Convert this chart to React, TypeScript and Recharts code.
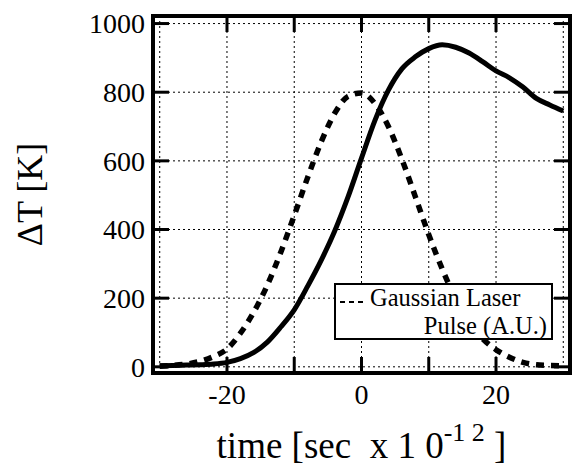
import React from "react";
import {
  LineChart,
  Line,
  XAxis,
  YAxis,
  CartesianGrid,
  Legend,
  ReferenceArea,
} from "recharts";

// time in ps (x 10^-12 s)
const time = [
  -30, -28, -26, -24, -22, -20, -18, -16, -14, -12, -10, -8, -6, -4, -2, 0,
  2, 4, 6, 8, 10, 12, 14, 16, 18, 20, 22, 24, 26, 28, 30,
];
// temperature rise, K
const deltaT = [
  3, 4, 5, 6, 8, 13, 24, 42, 72, 116, 166, 235, 310, 395, 495, 608,
  718, 806, 868, 903, 927, 938, 931, 914, 889, 862, 842, 815, 782, 763, 745,
];
// gaussian laser pulse, arbitrary units
const laserPulse = [
  2, 4, 8, 16, 30, 52, 98, 160, 238, 334, 441, 552, 655, 738, 788, 798,
  767, 700, 605, 496, 385, 285, 198, 130, 82, 50, 28, 13, 6, 4, 3,
];

const xTicks = [-30, -20, -10, 0, 10, 20, 30];
const xLabels = [-20, 0, 20];
const yTicks = [0, 200, 400, 600, 800, 1000];
const xDomain = [-31, 31];
const yDomain = [-18, 1022];

const data = time.map((t, i) => ({ t, dT: deltaT[i], pulse: laserPulse[i] }));

const FONT = "'Liberation Serif', 'Times New Roman', serif";
const TICK = 16;

const BottomTick = (props: any) => {
  const { x, y, payload } = props;
  const v = payload.value;
  return (
    <g>
      {Math.abs(v) < 30 && (
        <line x1={x} x2={x} y1={y} y2={y - TICK} stroke="#000" strokeWidth={3} />
      )}
      {xLabels.includes(v) && (
        <text x={x} y={y + 31} textAnchor="middle" fontSize={28} fontFamily={FONT} fill="#000">
          {v}
        </text>
      )}
    </g>
  );
};

const TopTick = (props: any) => {
  const { x, y, payload } = props;
  if (Math.abs(payload.value) >= 30) return <g />;
  return <line x1={x} x2={x} y1={y} y2={y + TICK} stroke="#000" strokeWidth={3} />;
};

const LeftTick = (props: any) => {
  const { x, y, payload } = props;
  return (
    <g>
      <line x1={x} x2={x + TICK} y1={y} y2={y} stroke="#000" strokeWidth={3} />
      <text x={x - 8} y={y} dy="0.35em" textAnchor="end" fontSize={28} fontFamily={FONT} fill="#000">
        {payload.value}
      </text>
    </g>
  );
};

const RightTick = (props: any) => {
  const { x, y } = props;
  return <line x1={x - TICK} x2={x} y1={y} y2={y} stroke="#000" strokeWidth={3} />;
};

const XTitle = (props: any) => {
  const { x, y, width } = props.viewBox;
  return (
    <text
      x={x + width / 2}
      y={y + 85}
      textAnchor="middle"
      fontSize={37}
      fontFamily={FONT}
      fill="#000"
      style={{ whiteSpace: "pre" }}
    >
      <tspan>time [sec  x 1 0</tspan>
      <tspan dy={-17} fontSize={26}>-1 2</tspan>
      <tspan dy={17}> ]</tspan>
    </text>
  );
};

const YTitle = (props: any) => {
  const { y, height } = props.viewBox;
  const cx = 29;
  const cy = y + height / 2;
  return (
    <text
      x={cx}
      y={cy}
      dy="0.35em"
      textAnchor="middle"
      fontSize={36}
      fontFamily={FONT}
      fill="#000"
      transform={`rotate(-90, ${cx}, ${cy})`}
    >
      ΔT [K]
    </text>
  );
};

const PulseLegend = () => (
  <div
    style={{
      position: "relative",
      width: 215,
      height: 53,
      border: "2px solid #000",
      background: "#fff",
      fontFamily: FONT,
      fontSize: 24.5,
      color: "#000",
      lineHeight: "27px",
    }}
  >
    <div style={{ position: "absolute", left: 4, top: -1, whiteSpace: "nowrap" }}>
      <svg width={23} height={10} style={{ marginRight: 7 }}>
        <line x1={0} x2={23} y1={6} y2={6} stroke="#000" strokeWidth={2} strokeDasharray="5 4" />
      </svg>
      Gaussian Laser
    </div>
    <div style={{ position: "absolute", right: 4, top: 27, whiteSpace: "nowrap" }}>
      Pulse (A.U.)
    </div>
  </div>
);

export default function App() {
  return (
    <div style={{ position: "absolute", left: 0, top: 0, background: "#fff" }}>
      <LineChart
        width={575}
        height={466}
        data={data}
        margin={{ top: 15, right: 4, bottom: 0, left: 0 }}
      >
        <CartesianGrid stroke="#000" strokeDasharray="2 3" strokeWidth={1} />
        <XAxis
          dataKey="t"
          type="number"
          domain={xDomain}
          ticks={xTicks}
          height={93}
          axisLine={false}
          tickLine={false}
          tickSize={0}
          tickMargin={0}
          tick={<BottomTick />}
          label={<XTitle />}
        />
        <XAxis
          xAxisId="top"
          orientation="top"
          dataKey="t"
          type="number"
          domain={xDomain}
          ticks={xTicks}
          height={1}
          axisLine={false}
          tickLine={false}
          tickSize={0}
          tickMargin={0}
          tick={<TopTick />}
        />
        <YAxis
          type="number"
          domain={yDomain}
          ticks={yTicks}
          width={153}
          axisLine={false}
          tickLine={false}
          tickSize={0}
          tickMargin={0}
          tick={<LeftTick />}
          label={<YTitle />}
        />
        <YAxis
          yAxisId="right"
          orientation="right"
          type="number"
          domain={yDomain}
          ticks={yTicks}
          width={1}
          axisLine={false}
          tickLine={false}
          tickSize={0}
          tickMargin={0}
          tick={<RightTick />}
        />
        <ReferenceArea
          x1={xDomain[0]}
          x2={xDomain[1]}
          y1={yDomain[0]}
          y2={yDomain[1]}
          fill="none"
          stroke="#000"
          strokeWidth={4}
          ifOverflow="visible"
        />
        <Line
          type="monotone"
          dataKey="pulse"
          stroke="#000"
          strokeWidth={5.5}
          strokeDasharray="8 7"
          dot={false}
          isAnimationActive={false}
        />
        <Line
          xAxisId="top"
          yAxisId="right"
          type="monotone"
          dataKey="dT"
          stroke="#000"
          strokeWidth={5}
          dot={false}
          legendType="none"
          isAnimationActive={false}
        />
        <Legend
          layout="horizontal"
          verticalAlign="middle"
          align="center"
          content={<PulseLegend />}
          wrapperStyle={{ left: 334, top: 283, width: 219, height: 57 }}
        />
      </LineChart>
    </div>
  );
}
